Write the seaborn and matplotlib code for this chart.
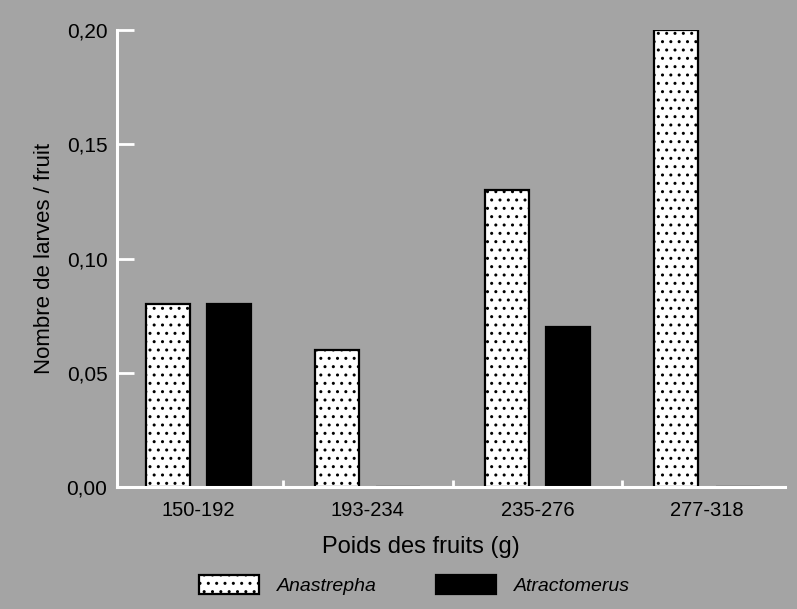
import matplotlib
matplotlib.use("Agg")
import matplotlib.pyplot as plt
import seaborn as sns
import pandas as pd
from matplotlib.ticker import FixedLocator, FuncFormatter

categories = ["150-192", "193-234", "235-276", "277-318"]
anastrepha = [0.08, 0.06, 0.13, 0.20]
atractomerus = [0.08, 0.0, 0.07, 0.0]
series_names = ["Anastrepha", "Atractomerus"]
y_ticks = [0.00, 0.05, 0.10, 0.15, 0.20]

df = pd.DataFrame({
    "cat": categories * 2,
    "val": anastrepha + atractomerus,
    "species": [series_names[0]] * 4 + [series_names[1]] * 4,
})

sns.set_style("white")
plt.rcParams["font.family"] = ["Liberation Sans", "DejaVu Sans"]
plt.rcParams["hatch.linewidth"] = 1.0
plt.rcParams["text.color"] = "black"
plt.rcParams["axes.labelcolor"] = "black"
plt.rcParams["xtick.color"] = "black"
plt.rcParams["ytick.color"] = "black"

bg = "#a4a4a4"
fig = plt.figure(figsize=(7.97, 6.09), dpi=100, facecolor=bg)
ax = fig.add_axes([0.147, 0.200, 0.838, 0.751])
ax.set_facecolor(bg)

sns.barplot(data=df, x="cat", y="val", hue="species", order=categories,
            hue_order=series_names, palette=["white", "black"],
            edgecolor="black", linewidth=1.6, width=0.72, gap=0.28,
            ax=ax, legend=True)

n = len(categories)
for i, p in enumerate(ax.patches[:2 * n]):
    if i < n:
        p.set_hatch("..")

ax.set_xlim(-0.477, 3.46)
ax.set_ylim(0, 0.2)
ax.yaxis.set_major_locator(FixedLocator(y_ticks))
ax.yaxis.set_major_formatter(FuncFormatter(lambda v, _: f"{v:.2f}".replace(".", ",")))

for s in ["top", "right"]:
    ax.spines[s].set_visible(False)
for s in ["left", "bottom"]:
    ax.spines[s].set_color("white")
    ax.spines[s].set_linewidth(2.2)

ax.tick_params(axis="y", direction="in", length=12, width=2, color="white",
               labelcolor="black", labelsize=15, pad=7, left=True)
ax.tick_params(axis="x", length=0, labelsize=14.5, labelcolor="black", pad=10)
ax.set_xticks([0.5, 1.5, 2.5], minor=True)
ax.tick_params(axis="x", which="minor", direction="in", length=5, width=2,
               color="white", bottom=True)

ax.set_xlabel("Poids des fruits (g)", fontsize=17, labelpad=12, color="black")
ax.xaxis.set_label_coords(0.454, -0.106)
ax.set_ylabel("Nombre de larves / fruit", fontsize=16, labelpad=8, color="black")

leg = ax.get_legend()
handles = leg.legend_handles
leg.remove()
for h, hatch in zip(handles, ["..", None]):
    h.set_edgecolor("black")
    h.set_linewidth(1.6)
    if hatch:
        h.set_hatch(hatch)
lg = fig.legend(handles, series_names, loc="center", bbox_to_anchor=(0.52, 0.040),
                ncol=2, frameon=False, handlelength=3.1, handleheight=1.15,
                columnspacing=3.0, handletextpad=0.95,
                prop={"style": "italic", "size": 14,
                      "family": ["Liberation Sans", "DejaVu Sans"]})

fig.savefig("out.png", dpi=100, facecolor=bg)
